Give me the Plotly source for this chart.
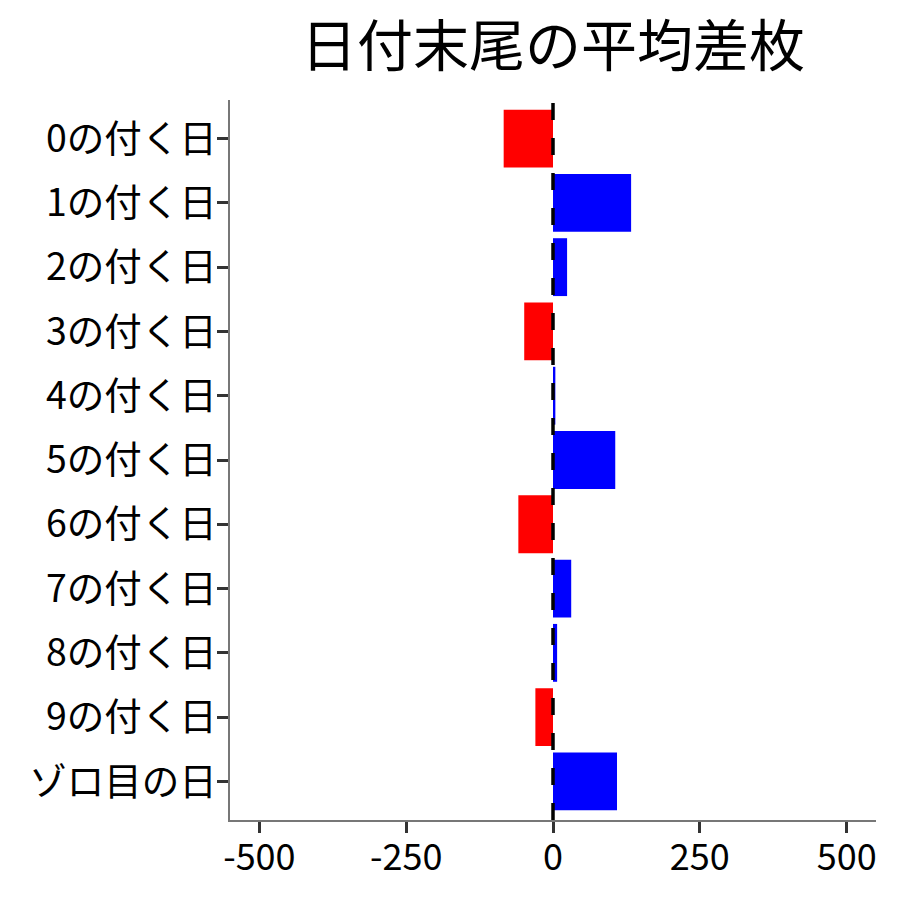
import plotly.graph_objects as go

categories = ["0の付く日", "1の付く日", "2の付く日", "3の付く日", "4の付く日",
              "5の付く日", "6の付く日", "7の付く日", "8の付く日", "9の付く日", "ゾロ目の日"]
values = [-84, 133, 24, -49, 4, 106, -59, 31, 7, -30, 109]
x_ticks = [-500, -250, 0, 250, 500]
title_text = "日付末尾の平均差枚"

colors = ["#FF0000" if v < 0 else "#0000FF" for v in values]
FONT = "Noto Sans CJK JP"

fig = go.Figure()
fig.add_trace(go.Bar(
    x=values, y=categories, orientation="h",
    marker=dict(color=colors, line=dict(width=0)),
    width=0.9, showlegend=False,
))
fig.add_shape(type="line", xref="x", yref="paper", x0=0, x1=0, y0=0, y1=1,
              line=dict(color="black", width=3.5, dash="17px,18px"), layer="above")

fig.update_layout(
    width=900, height=900,
    margin=dict(l=222, r=32, t=92, b=88, autoexpand=False),
    paper_bgcolor="white", plot_bgcolor="white",
    font=dict(family=FONT, color="black", size=36),
    title=dict(text=title_text, x=545/900, xanchor="center", y=1 - 38/900, yanchor="middle",
               font=dict(family=FONT, size=56, color="black")),
    bargap=0.1,
)
fig.update_xaxes(
    range=[-550, 550], tickvals=x_ticks, ticktext=[str(t) for t in x_ticks],
    showgrid=False, zeroline=False,
    showline=True, linecolor="#777777", linewidth=1.5,
    ticks="outside", ticklen=11, tickwidth=3, tickcolor="#333333",
    ticklabelstandoff=-6,
    tickfont=dict(family=FONT, size=36, color="black"),
)
fig.update_yaxes(
    categoryorder="array", categoryarray=categories,
    range=[10.6, -0.6],
    showgrid=False, zeroline=False,
    showline=True, linecolor="#777777", linewidth=1.5,
    ticks="outside", ticklen=11, tickwidth=3, tickcolor="#333333",
    ticklabelstandoff=-7,
    tickfont=dict(family=FONT, size=37.5, color="black"),
)
fig.write_html("out.html")
